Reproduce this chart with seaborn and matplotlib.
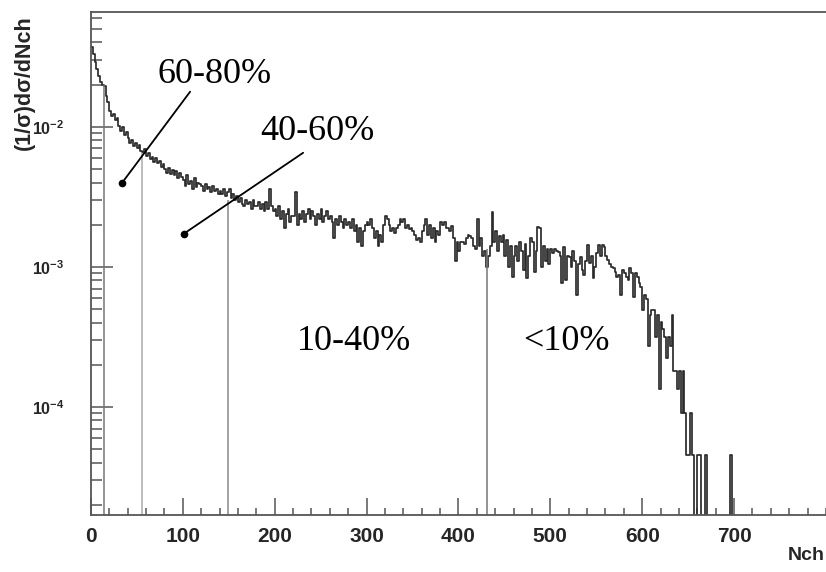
import numpy as np
import pandas as pd
import matplotlib
matplotlib.use('Agg')
import matplotlib.pyplot as plt
import matplotlib.ticker as mticker
from matplotlib import font_manager
import seaborn as sns

# distribucion de multiplicidad, bins de 2 en Nch (0-700), valores en unidades de 1e-3
bin_width = 2
dens_e3 = [
    37, 33, 29, 26, 23, 21, 20, 19.5, 16.5, 15.0,
    13.0, 12.0, 12.4, 11.2, 11.6, 10.2, 9.4, 9.9, 8.8, 9.2,
    8.3, 7.7, 8.1, 7.3, 7.6, 7.0, 7.4, 6.7, 6.6, 6.9,
    6.2, 6.5, 5.9, 6.1, 5.6, 6.0, 5.5, 5.7, 5.2, 5.4,
    5.0, 4.7, 5.1, 4.6, 4.9, 4.5, 4.8, 4.3, 4.7, 4.4,
    4.2, 3.8, 4.5, 3.9, 4.1, 3.6, 4.3, 3.7, 4.0, 3.9,
    3.8, 3.5, 3.9, 3.6, 3.7, 3.4, 3.8, 3.5, 3.6, 3.3,
    3.5, 3.3, 3.6, 3.2, 3.4, 3.6, 3.1, 3.3, 3.0, 3.2,
    2.9, 3.1, 2.8, 2.7, 3.0, 2.8, 2.9, 2.6, 3.0, 2.7,
    2.7, 2.9, 2.6, 2.8, 2.5, 2.9, 2.6, 3.6, 2.7, 2.5,
    2.6, 2.3, 2.7, 2.2, 2.5, 1.9, 2.4, 2.6, 2.1, 2.3,
    2.3, 3.4, 2.0, 2.4, 2.2, 2.5, 2.1, 2.4, 2.6, 2.2,
    2.5, 2.3, 2.0, 2.4, 2.2, 2.6, 2.1, 2.3, 2.5, 2.2,
    2.3, 2.1, 1.6, 2.2, 2.0, 2.3, 2.1, 1.9, 2.2, 2.0,
    2.1, 1.9, 2.2, 1.8, 2.0, 1.5, 1.9, 1.4, 1.8, 2.0,
    2.1, 2.0, 2.2, 1.9, 1.6, 1.8, 1.4, 1.7, 1.5, 2.0,
    2.3, 2.2, 2.0, 1.8, 1.9, 1.75, 1.9, 2.0, 2.2, 2.1,
    2.2, 1.9, 2.0, 1.85, 1.9, 1.8, 1.7, 1.55, 1.6, 1.5,
    1.8, 2.0, 2.2, 1.7, 2.0, 1.6, 1.9, 1.5, 1.8, 1.7,
    2.1, 2.0, 2.1, 1.9, 1.9, 1.8, 1.95, 1.6, 1.1, 1.5,
    1.3, 1.5, 1.5, 1.45, 1.6, 1.7, 1.65, 1.6, 1.4, 1.35,
    2.2, 1.4, 1.6, 1.2, 1.3, 1.0, 1.2, 1.4, 2.45, 1.5,
    1.8, 1.3, 1.65, 1.5, 1.7, 1.2, 1.55, 1.0, 1.4, 0.85,
    1.2, 1.4, 1.1, 1.5, 1.3, 0.95, 1.45, 0.83, 1.2, 1.6,
    1.5, 0.92, 1.3, 1.93, 1.9, 1.0, 1.4, 1.1, 1.35, 1.05,
    1.33, 1.25, 1.35, 1.3, 1.28, 1.2, 0.77, 1.39, 0.8, 1.2,
    1.18, 1.0, 1.3, 1.1, 0.63, 1.05, 1.18, 0.95, 0.87, 1.1,
    1.44, 1.07, 1.2, 0.83, 1.0, 1.26, 1.44, 1.2, 1.42, 1.39,
    1.2, 1.12, 1.05, 1.0, 0.98, 0.92, 0.85, 0.88, 0.63, 0.95,
    0.9, 0.85, 0.8, 0.98, 0.9, 0.61, 0.9, 0.85, 0.77, 0.72,
    0.495, 0.63, 0.585, 0.27, 0.45, 0.495, 0.495, 0.315, 0.45, 0.135,
    0.405, 0.36, 0.315, 0.225, 0.315, 0.27, 0.45, 0.18, 0.18, 0.135,
    0.18, 0.09, 0.18, 0.09, 0.045, 0.045, 0.09, 0.045, 0, 0,
    0.045, 0.045, 0, 0, 0.045, 0, 0, 0, 0, 0,
    0, 0, 0, 0, 0, 0, 0, 0, 0.045, 0,
]

# cortes de centralidad (Nch) y altura de la linea en cada corte
cut_nch = [14, 56, 149, 431]
cut_top = [20e-3, 6.5e-3, 3.0e-3, 1.35e-3]
cut_colors = ['#777777', '#aaaaaa', '#888888', '#777777']

# etiquetas de clases de centralidad
class_labels = ['60-80%', '40-60%', '10-40%', '<10%']
class_text_xy = [(72, 2.06e-2), (184, 8.1e-3), (224, 2.55e-4), (470, 2.55e-4)]
# lineas que apuntan a las clases perifericas (inicio -> punto)
pointer_from = [(108, 1.78e-2), (231, 6.52e-3)]
pointer_to = [(34, 3.98e-3), (101, 1.72e-3)]

n_bins = len(dens_e3)
df = pd.DataFrame({
    'Nch': np.arange(n_bins) * bin_width + bin_width / 2,
    'dens': np.array(dens_e3) * 1e-3,
})

sns.set_style('white')
plt.rcParams['font.family'] = ['Liberation Sans', 'DejaVu Sans']

# fuente estrecha para las etiquetas del eje y (si esta instalada)
installed = {f.name for f in font_manager.fontManager.ttflist}
narrow = 'Liberation Sans Narrow' if 'Liberation Sans Narrow' in installed else 'Liberation Sans'
ylab_size = 14 if narrow == 'Liberation Sans Narrow' else 11.5
plt.rcParams['mathtext.fontset'] = 'custom'
plt.rcParams['mathtext.bf'] = narrow + ':bold'
plt.rcParams['mathtext.rm'] = narrow + ':bold'

fig = plt.figure(figsize=(8.26, 5.72), dpi=100)
ax = fig.add_axes([0.110, 0.0997, 0.890, 0.8793])

sns.histplot(data=df, x='Nch', weights='dens', binwidth=bin_width,
             binrange=(0, n_bins * bin_width), element='step', fill=False,
             color='#2b2b2b', linewidth=1.25, ax=ax)
ax.set_yscale('log')
ax.set_xlim(0, 800)
ax.set_ylim(1.69e-5, 6.6e-2)

# lineas verticales de los cortes
ax.vlines(cut_nch, 1e-7, cut_top, colors=cut_colors, linewidth=1.1)

# textos y punteros
serif = ['Liberation Serif', 'DejaVu Serif']
for lab, (tx, ty) in zip(class_labels, class_text_xy):
    ax.text(tx, ty, lab, family=serif, fontsize=26, ha='left', va='baseline', color='black')
for (x0, y0), (x1, y1) in zip(pointer_from, pointer_to):
    ax.plot([x0, x1], [y0, y1], color='black', linewidth=1.3)
    ax.plot(x1, y1, 'o', color='black', markersize=4.5)

# ejes estilo ROOT
axis_col = '#555555'
for side in ['left', 'bottom', 'top']:
    ax.spines[side].set_color(axis_col)
    ax.spines[side].set_linewidth(1.3)
ax.spines['right'].set_visible(False)

ax.xaxis.set_major_locator(mticker.FixedLocator(range(0, 800, 100)))
ax.xaxis.set_minor_locator(mticker.MultipleLocator(20))
ax.yaxis.set_major_locator(mticker.LogLocator(base=10, numticks=10))
ax.yaxis.set_minor_locator(mticker.LogLocator(base=10, subs=np.arange(2, 10), numticks=20))
ax.yaxis.set_major_formatter(mticker.FuncFormatter(
    lambda v, p: r'$\mathbf{10^{%d}}$' % int(round(np.log10(v)))))
ax.yaxis.set_minor_formatter(mticker.NullFormatter())

ax.tick_params(axis='x', which='major', direction='in', length=12, width=1.1,
               color=axis_col, pad=9, labelsize=15, bottom=True, top=False)
ax.tick_params(axis='x', which='minor', direction='in', length=5, width=1.1,
               color=axis_col, bottom=True, top=False)
ax.tick_params(axis='y', which='major', direction='in', length=16, width=1.1,
               color=axis_col, pad=19, labelsize=ylab_size, left=True, right=False)
ax.tick_params(axis='y', which='minor', direction='in', length=8, width=1.1,
               color=axis_col, left=True, right=False)
for lab in ax.get_xticklabels():
    lab.set_fontweight('bold')

ax.set_xlabel('Nch', fontweight='bold', fontsize=14, loc='right')
ax.xaxis.set_label_coords(0.998, -0.064)
ax.set_ylabel('(1/σ)dσ/dNch', fontweight='bold', fontsize=15.5, loc='top')
ax.yaxis.set_label_coords(-0.076, 0.994)

fig.savefig('out.png', dpi=100)
